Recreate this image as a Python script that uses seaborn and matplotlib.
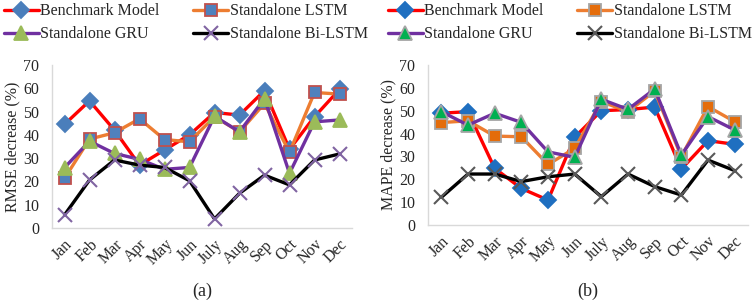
import matplotlib
matplotlib.use("Agg")
import matplotlib.pyplot as plt
import matplotlib.transforms as mtransforms
import seaborn as sns
import pandas as pd

months = ["Jan", "Feb", "Mar", "Apr", "May", "Jun", "July", "Aug", "Sep", "Oct", "Nov", "Dec"]
series_names = ["Benchmark Model", "Standalone LSTM", "Standalone GRU", "Standalone Bi-LSTM"]

rmse_benchmark = [44.5, 54.6, 42.0, 27.0, 33.5, 40.0, 49.6, 48.5, 59.0, 33.8, 47.8, 59.5]
rmse_lstm = [21.3, 38.2, 40.9, 46.9, 38.0, 37.0, 47.8, 41.3, 53.5, 32.5, 58.2, 57.5]
rmse_gru = [25.9, 37.3, 32.0, 29.5, 25.2, 26.0, 48.0, 41.3, 55.6, 23.5, 45.6, 46.4]
rmse_bilstm = [5.6, 20.6, 29.2, 27.0, 26.0, 20.3, 3.9, 14.9, 22.7, 18.5, 29.2, 31.8]

mape_benchmark = [48.9, 49.6, 24.8, 16.0, 10.9, 38.4, 50.0, 50.5, 51.6, 24.5, 36.9, 35.3]
mape_lstm = [44.8, 45.6, 38.9, 38.6, 26.5, 33.5, 54.0, 49.6, 58.6, 29.9, 51.8, 45.2]
mape_gru = [49.6, 43.7, 48.9, 44.9, 32.0, 29.6, 55.0, 50.6, 59.5, 30.6, 47.4, 41.6]
mape_bilstm = [12.1, 22.3, 22.3, 19.0, 21.1, 22.3, 12.4, 22.3, 16.8, 13.1, 28.4, 23.8]

sns.set_theme(style="white")
plt.rcParams["font.family"] = ["Liberation Serif", "DejaVu Serif"]

fig = plt.figure(figsize=(7.52, 3.02), dpi=100)
ax_a = fig.add_axes([52 / 752, 1 - 228 / 302, 300 / 752, 163 / 302])
ax_b = fig.add_axes([428 / 752, 1 - 225 / 302, 320 / 752, 160 / 302])

styles_a = [
    dict(color="#FF0000", marker="D", mfc="#4A7EBB", mec="#4A7EBB", ms=8),
    dict(color="#ED7D31", marker="s", mfc="#4F81BD", mec="#C0504D", ms=9),
    dict(color="#7030A0", marker="^", mfc="#9BBB59", mec="#9BBB59", ms=10),
    dict(color="#000000", marker="x", mfc="#8064A2", mec="#8064A2", ms=10),
]
styles_b = [
    dict(color="#FF0000", marker="D", mfc="#1F6FC0", mec="#1F6FC0", ms=8),
    dict(color="#ED7D31", marker="s", mfc="#E46C0A", mec="#A5A5A5", ms=9),
    dict(color="#7030A0", marker="^", mfc="#00B050", mec="#A5A5A5", ms=10),
    dict(color="#000000", marker="x", mfc="#595959", mec="#595959", ms=10),
]

def draw(ax, data, styles, ylabel, caption, legend_x):
    for name, vals, st in zip(series_names, data, styles):
        df = pd.DataFrame({"month": months, "value": vals})
        sns.lineplot(data=df, x="month", y="value", ax=ax, sort=False,
                     color=st["color"], linewidth=2.4, marker=st["marker"],
                     markersize=st["ms"], markerfacecolor=st["mfc"],
                     markeredgecolor=st["mec"], markeredgewidth=1.3 if st["marker"] != "x" else 1.5,
                     label=name)
    ax.set_xlim(-0.5, 11.5)
    ax.set_ylim(0, 70)
    ax.set_yticks(range(0, 71, 10))
    ax.tick_params(axis="y", labelsize=11.5, length=0, pad=9)
    ax.tick_params(axis="x", labelsize=11.5, length=0, pad=6)
    ax.set_xticks(range(len(months)))
    ax.set_xticklabels(months, rotation=45, ha="right", rotation_mode="anchor")
    ax.set_xlabel("")
    ax.set_ylabel(ylabel, fontsize=11.5, labelpad=2)
    for s in ["top", "right"]:
        ax.spines[s].set_visible(False)
    for s in ["left", "bottom"]:
        ax.spines[s].set_color("#D9D9D9")
        ax.spines[s].set_linewidth(1.0)
    handles, labels = ax.get_legend_handles_labels()
    order = [0, 2, 1, 3]
    ax.legend([handles[i] for i in order], [labels[i] for i in order],
              loc="upper left", bbox_to_anchor=(legend_x, 0.995), bbox_transform=fig.transFigure,
              ncol=2, frameon=False, fontsize=11.5, handlelength=2.2, handletextpad=0.1,
              columnspacing=2.1, labelspacing=0.45, borderaxespad=0, borderpad=0.1)
    trans = mtransforms.blended_transform_factory(ax.transAxes, fig.transFigure)
    ax.text(0.5, 0.035, caption, transform=trans, fontsize=13, ha="center", va="center")

draw(ax_a, [rmse_benchmark, rmse_lstm, rmse_gru, rmse_bilstm], styles_a,
     "RMSE decrease (%)", "(a)", 2 / 752)
draw(ax_b, [mape_benchmark, mape_lstm, mape_gru, mape_bilstm], styles_b,
     "MAPE decrease (%)", "(b)", 386 / 752)

fig.savefig("out.png", dpi=100)
